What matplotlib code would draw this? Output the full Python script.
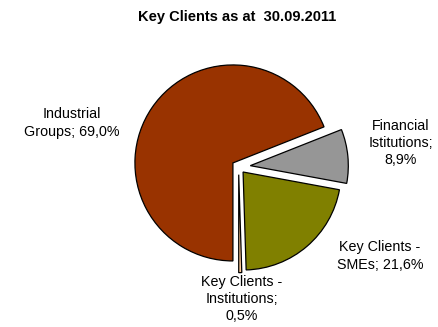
"""Key clients breakdown pie chart."""

import matplotlib

matplotlib.use("Agg")
import matplotlib.pyplot as plt

plt.rcParams["font.family"] = ["Liberation Sans", "DejaVu Sans"]

# Segment data (clockwise from 6 o'clock)
names = ["Industrial\nGroups", "Financial\nIstitutions", "Key Clients -\nSMEs",
         "Key Clients -\nInstitutions"]
shares = [69.0, 8.9, 21.6, 0.5]
colors = ["#993300", "#969696", "#808000", "#FFCC99"]
explode = [0.07, 0.12, 0.07, 0.08]  # fraction of radius
title = "Key Clients as at  30.09.2011"

# label anchors in figure pixels (x, y from top)
label_pos = [(72, 123), (401, 143), (380, 256), (242, 299)]
label_sep = ["; ", ";\n", "; ", ";\n"]

W, H = 438, 327
R = 98
fig = plt.figure(figsize=(W / 100, H / 100), dpi=100)
ax = fig.add_axes([0, 0, 1, 1])

# pie() offsets wedges by explode in data units, so scale by the radius
ax.pie(shares, colors=colors, explode=[e * R for e in explode], startangle=-90,
       counterclock=False, radius=R, center=(238.6, H - 166.8), frame=True,
       wedgeprops=dict(edgecolor="black", linewidth=0.9))
ax.set_xlim(0, W)
ax.set_ylim(0, H)
ax.set_aspect("equal")
ax.set_axis_off()

for name, val, sep, (x, y) in zip(names, shares, label_sep, label_pos):
    txt = f"{name}{sep}{val:.1f}%".replace(".", ",")
    ax.text(x, H - y, txt, ha="center", va="center", fontsize=10.3,
            linespacing=1.28, color="black")

ax.text(237, H - 17, title, ha="center", va="center", fontsize=10.5,
        fontweight="bold")

fig.savefig("out.png", dpi=100)
